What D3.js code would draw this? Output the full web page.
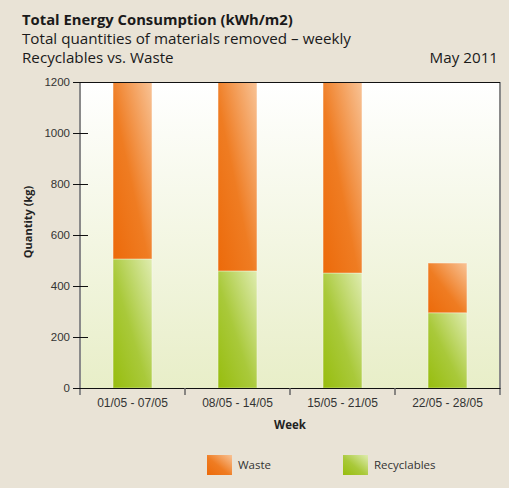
<!DOCTYPE html>
<html>
<head>
<meta charset="utf-8">
<script src="https://cdn.jsdelivr.net/npm/d3@7"></script>
<style>
  body { margin: 0; background: #e9e3d6; }
  svg { display: block; font-family: "Open Sans", "Noto Sans", sans-serif; }
</style>
</head>
<body>
<script>
var WIDTH = 509, HEIGHT = 488
var margin = {top: 82, right: 9, bottom: 100, left: 80}

// data (first three waste bars run past the 1200 top)
var weeks = ['01/05 - 07/05', '08/05 - 14/05', '15/05 - 21/05', '22/05 - 28/05']
var recyclables = [506, 459, 451, 295]
var waste = [820, 860, 870, 195]
var yTicks = [0, 200, 400, 600, 800, 1000, 1200]

var w = WIDTH - margin.left - margin.right,
	h = HEIGHT - margin.top - margin.bottom

var svg = d3.select('body').append('svg')
	.attr('width', WIDTH)
	.attr('height', HEIGHT)

var defs = svg.append('defs')

function grad(id, stops, x1, y1, x2, y2){
	var g = defs.append('linearGradient').attr('id', id)
		.attr('x1', x1).attr('y1', y1).attr('x2', x2).attr('y2', y2)
	stops.forEach(function(s){
		g.append('stop').attr('offset', s[0]).attr('stop-color', s[1])
	})
}
grad('bg', [[0, '#ffffff'], [1, '#e8eec8']], 0, 0, 0, 1)
grad('gWaste', [[0, '#ec6a0a'], [0.45, '#ef7c22'], [1, '#f8c396']], 0, 1, 1, 0)
grad('gRecy', [[0, '#97bd0e'], [0.45, '#a9c93a'], [1, '#dfecb0']], 0, 1, 1, 0)

defs.append('clipPath').attr('id', 'plotClip')
	.append('rect').attr('width', w).attr('height', h)

// titles
var titles = svg.append('g').attr('fill', '#1a1a1a')
titles.append('text').attr('x', 22).attr('y', 25)
	.style('font-size', '14.8px').style('font-weight', 'bold')
	.text('Total Energy Consumption (kWh/m2)')
titles.append('text').attr('x', 22).attr('y', 44)
	.style('font-size', '15.2px')
	.text('Total quantities of materials removed \u2013 weekly')
titles.append('text').attr('x', 22).attr('y', 63)
	.style('font-size', '15.2px')
	.text('Recyclables vs. Waste')
titles.append('text').attr('x', 498).attr('y', 63)
	.attr('text-anchor', 'end')
	.style('font-size', '15.2px')
	.text('May 2011')

var x = d3.scaleBand().domain(weeks).range([0, w])
	.paddingInner(0.63).paddingOuter(0.315)
var xb = d3.scaleBand().domain(weeks).range([0, w])
var y = d3.scaleLinear().domain([0, 1200]).range([h, 0])

var g = svg.append('g').attr('transform', 'translate(' + margin.left + ',' + margin.top + ')')

g.append('rect').attr('width', w).attr('height', h).attr('fill', 'url(#bg)')

var bars = g.append('g').attr('clip-path', 'url(#plotClip)')

bars.selectAll('.recy').data(weeks).enter().append('rect')
	.attr('x', function(d){ return x(d) })
	.attr('width', x.bandwidth())
	.attr('y', function(d, i){ return y(recyclables[i]) })
	.attr('height', function(d, i){ return y(0) - y(recyclables[i]) })
	.attr('fill', 'url(#gRecy)')
	.attr('stroke', 'rgba(255,255,255,0.35)')

bars.selectAll('.waste').data(weeks).enter().append('rect')
	.attr('x', function(d){ return x(d) })
	.attr('width', x.bandwidth())
	.attr('y', function(d, i){ return y(Math.min(1200, recyclables[i] + waste[i])) })
	.attr('height', function(d, i){ return y(recyclables[i]) - y(Math.min(1200, recyclables[i] + waste[i])) })
	.attr('fill', 'url(#gWaste)')
	.attr('stroke', 'rgba(255,255,255,0.35)')

// frame: gray sides, black top and bottom
g.append('line').attr('x1', 0).attr('x2', 0).attr('y1', 0).attr('y2', h + 7)
	.attr('stroke', '#8a8a8a').attr('stroke-width', 2)
g.append('line').attr('x1', w).attr('x2', w).attr('y1', 0).attr('y2', h + 7)
	.attr('stroke', '#8a8a8a').attr('stroke-width', 2)
g.append('line').attr('x1', 0).attr('x2', w).attr('y1', 0.5).attr('y2', 0.5)
	.attr('stroke', '#111').attr('stroke-width', 1.2)

// y axis
var yAxis = g.append('g')
	.call(d3.axisLeft(y).tickValues(yTicks).tickFormat(d3.format('d')).tickSize(7).tickPadding(3))
yAxis.select('.domain').remove()
yAxis.selectAll('.tick line').attr('x2', 8).attr('x1', -7).attr('stroke', '#111')
yAxis.selectAll('.tick text').style('font-size', '11.5px').attr('fill', '#333')

// x axis
var xAxis = g.append('g').attr('transform', 'translate(0,' + h + ')')
	.call(d3.axisBottom(xb).tickSize(0).tickPadding(10))
xAxis.select('.domain').attr('stroke', '#111').attr('stroke-width', 1.2)
xAxis.selectAll('.tick text').style('font-size', '12px').attr('fill', '#333')
xAxis.selectAll('.sep').data(weeks.slice(1)).enter().append('line')
	.attr('x1', function(d){ return xb(d) }).attr('x2', function(d){ return xb(d) })
	.attr('y1', 0).attr('y2', 7)
	.attr('stroke', '#666').attr('stroke-width', 1.5)

g.append('text').attr('x', w / 2).attr('y', h + 41)
	.attr('text-anchor', 'middle')
	.style('font-size', '11.5px').style('font-weight', 'bold').attr('fill', '#222')
	.text('Week')

g.append('text')
	.attr('transform', 'translate(' + (28 - margin.left) + ',' + (222 - margin.top) + ') rotate(-90)')
	.attr('text-anchor', 'middle').attr('dy', '0.35em')
	.style('font-size', '11px').style('font-weight', 'bold').attr('fill', '#222')
	.text('Quantity (kg)')

// legend
var legendItems = [{name: 'Waste', fill: 'url(#gWaste)', x: 207}, {name: 'Recyclables', fill: 'url(#gRecy)', x: 343}]
var lg = svg.selectAll('.legend').data(legendItems).enter().append('g')
	.attr('transform', function(d){ return 'translate(' + d.x + ',455)' })
lg.append('rect').attr('width', 25).attr('height', 20).attr('fill', function(d){ return d.fill })
lg.append('text').attr('x', 31).attr('y', 10).attr('dy', '0.35em')
	.style('font-size', '11.5px').attr('fill', '#333')
	.text(function(d){ return d.name })
</script>
</body>
</html>
